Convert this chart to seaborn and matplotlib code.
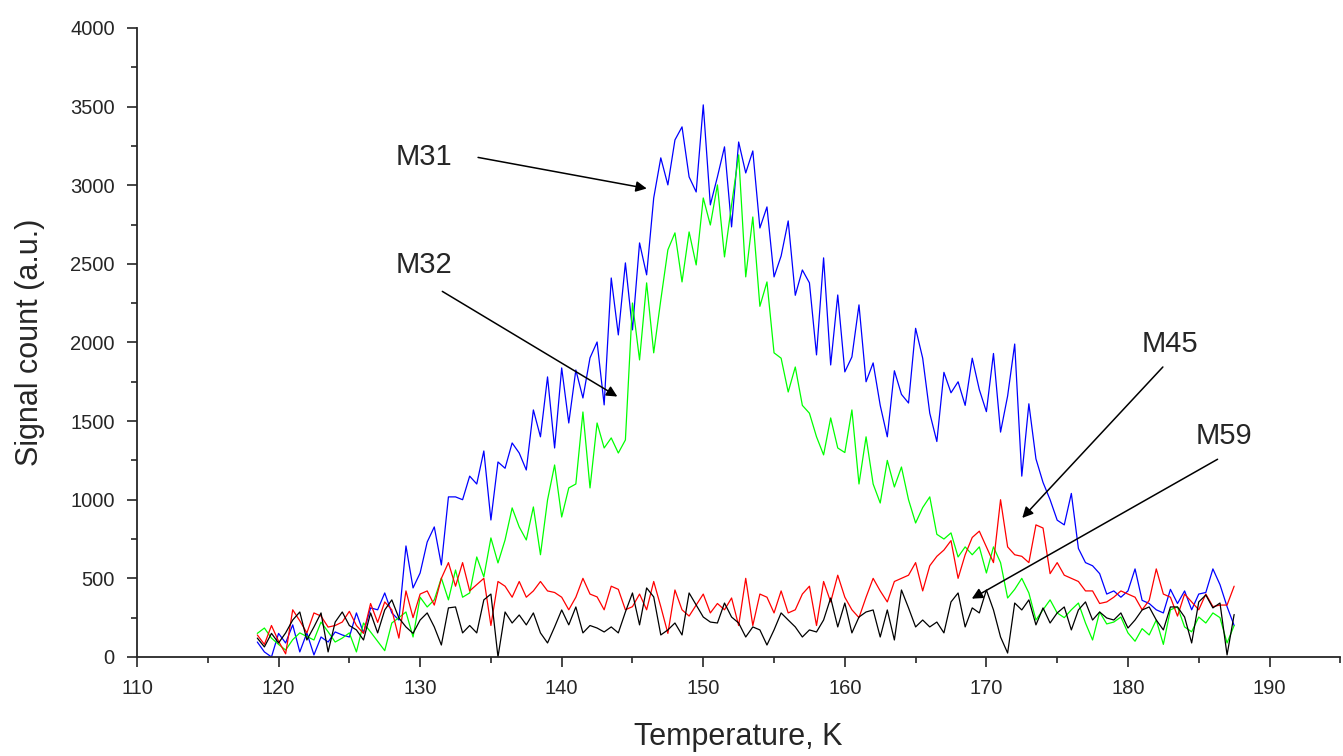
"""
TPD-style signal count vs temperature for M31, M32, M45 and M59.
"""

import numpy as np
import pandas as pd
import matplotlib
matplotlib.use("Agg")
import matplotlib.pyplot as plt
from matplotlib.ticker import MultipleLocator
import seaborn as sns

# temperature grid, K (0.5 K sampling)
temperature = np.round(np.arange(118.5, 187.51, 0.5), 1)

m31 = [95, 32, 0, 150, 89, 204, 32, 153, 13, 127,
       95, 159, 140, 127, 280, 153, 312, 300, 407, 280,
       235, 706, 439, 534, 731, 827, 585, 1018, 1018, 1000,
       1150, 1100, 1310, 871, 1240, 1200, 1361, 1297, 1189, 1571,
       1400, 1781, 1329, 1838, 1488, 1825, 1647, 1902, 2003,
       1603, 2410, 2048, 2506, 2080, 2633, 2430, 2919, 3174, 3002,
       3288, 3371, 3053, 2957, 3511, 2875, 3053, 3244, 2735, 3275,
       3078, 3218, 2728, 2862, 2417, 2550, 2773, 2300, 2461, 2379,
       1921, 2538, 1857, 2302, 1813, 1908, 2239, 1750, 1870, 1600,
       1400, 1820, 1670, 1615, 2090, 1900, 1550, 1370, 1810, 1680,
       1750, 1600, 1900, 1700, 1560, 1930, 1430, 1660, 1990, 1150,
       1610, 1260, 1110, 1000, 870, 840, 1040, 690, 600, 580,
       530, 400, 420, 380, 420, 560, 360, 340, 300, 280,
       430, 340, 420, 300, 400, 410, 560, 460, 320, 200]

m32 = [150, 184, 120, 80, 44, 110, 153, 130, 108, 222,
       160, 95, 120, 153, 32, 216, 159, 100, 40, 216,
       250, 286, 127, 380, 318, 363, 502, 363, 553, 380,
       407, 636, 509, 757, 598, 744, 948, 827, 744, 954,
       650, 998, 1221, 890, 1075, 1100, 1558, 1075, 1488, 1329,
       1393, 1297, 1380, 2251, 1889, 2379, 1934, 2270, 2589, 2697,
       2385, 2703, 2493, 2919, 2747, 3002, 2544, 2875, 3193, 2417,
       2798, 2230, 2385, 1934, 1900, 1685, 1844, 1600, 1550, 1400,
       1285, 1520, 1329, 1300, 1571, 1100, 1400, 1100, 979, 1250,
       1081, 1208, 1000, 852, 950, 1018, 780, 750, 789, 636,
       700, 650, 700, 534, 700, 600, 375, 430, 500, 407,
       235, 300, 363, 280, 250, 300, 343, 216, 108, 286,
       210, 222, 254, 153, 100, 180, 140, 235, 80, 300,
       318, 191, 160, 254, 216, 280, 250, 89, 200]

m45 = [140, 80, 200, 100, 20, 300, 230, 153, 280, 260,
       190, 200, 222, 290, 200, 150, 340, 220, 350, 300,
       120, 420, 250, 400, 420, 330, 500, 600, 450, 600,
       420, 460, 500, 200, 480, 450, 380, 480, 380, 420,
       480, 420, 410, 380, 300, 380, 500, 400, 382, 300,
       450, 430, 300, 320, 400, 300, 480, 320, 150, 426,
       300, 260, 330, 400, 280, 340, 300, 375, 200, 500,
       200, 400, 380, 280, 420, 280, 300, 400, 450, 200,
       480, 350, 520, 380, 300, 250, 380, 500, 420, 350,
       480, 500, 520, 600, 420, 580, 640, 680, 740, 500,
       650, 760, 800, 700, 600, 1000, 700, 650, 640, 600,
       840, 820, 530, 600, 520, 500, 480, 420, 420, 340,
       350, 380, 420, 400, 380, 300, 360, 560, 400, 380,
       260, 400, 350, 300, 400, 320, 330, 330, 450]

m59 = [120, 64, 150, 89, 153, 235, 286, 108, 191, 280,
       32, 222, 286, 200, 172, 108, 280, 153, 299, 363,
       248, 191, 150, 235, 280, 191, 76, 312, 318, 153,
       200, 153, 363, 400, 0, 286, 216, 267, 204, 280,
       153, 89, 191, 299, 204, 318, 153, 200, 184, 159,
       191, 153, 286, 407, 204, 439, 382, 140, 172, 216,
       140, 407, 330, 254, 222, 216, 343, 254, 216, 127,
       191, 172, 76, 172, 280, 235, 191, 127, 172, 159,
       235, 375, 191, 343, 153, 254, 286, 299, 127, 299,
       108, 426, 312, 191, 235, 191, 222, 153, 350, 407,
       191, 312, 280, 426, 299, 127, 25, 343, 299, 363,
       204, 312, 216, 280, 318, 172, 299, 350, 235, 286,
       248, 235, 280, 184, 235, 299, 318, 235, 172, 318,
       318, 254, 89, 350, 394, 312, 343, 13, 270]

series = {"M31": (m31, "#0000ff"), "M32": (m32, "#00ff00"),
          "M45": (m45, "#ff0000"), "M59": (m59, "#000000")}

# label text position, arrow tail, arrow head (data coords)
labels = {
    "M31": ((130.3, 3180), (133.9, 3180), (146.2, 2976)),
    "M32": ((130.3, 2493), (131.4, 2334), (144.1, 1647)),
    "M45": ((183.0, 1990), (182.6, 1857), (172.4, 871)),
    "M59": ((186.8, 1405), (186.5, 1266), (168.8, 362)),
}

sns.set_style("ticks")
plt.rcParams["font.family"] = ["Liberation Sans", "DejaVu Sans"]

fig = plt.figure(figsize=(13.43, 7.56), dpi=100)
ax = fig.add_axes([0.102, 0.131, 0.896, 0.832])

for name, (vals, col) in series.items():
    df = pd.DataFrame({"T": temperature, "signal": vals})
    sns.lineplot(data=df, x="T", y="signal", color=col, lw=0.9, ax=ax)

for name, (txt, tail, head) in labels.items():
    ax.text(txt[0], txt[1], name, fontsize=21, ha="center", va="center")
    ax.annotate("", xy=head, xytext=tail,
                arrowprops=dict(arrowstyle="-|>", color="black", lw=1.1,
                                mutation_scale=16))

ax.set_xlim(110, 195)
ax.set_ylim(0, 4000)
ax.set_xticks(np.arange(110, 191, 10))
ax.set_yticks(np.arange(0, 4001, 500))
ax.xaxis.set_minor_locator(MultipleLocator(5))
ax.yaxis.set_minor_locator(MultipleLocator(250))
ax.tick_params(which="major", direction="out", length=7, width=1.2,
               labelsize=14.5, pad=9)
ax.tick_params(which="minor", direction="out", length=4, width=1.2)
for s in ["left", "bottom"]:
    ax.spines[s].set_linewidth(1.3)
sns.despine(ax=ax)
ax.set_xlabel("Temperature, K", fontsize=22, labelpad=17)
ax.set_ylabel("Signal count (a.u.)", fontsize=22, labelpad=18)

fig.savefig("out.png", dpi=100)
